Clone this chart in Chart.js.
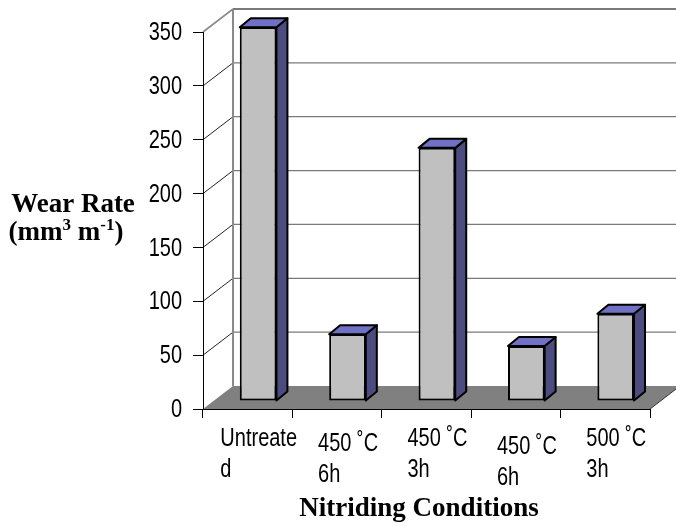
<!DOCTYPE html>
<html>
<head>
<meta charset="utf-8">
<script src="https://cdn.jsdelivr.net/npm/chart.js@4.4.1/dist/chart.umd.min.js"></script>
<style>
    body { margin: 0; background: #fff; }
    canvas { display: block; }
</style>
</head>
<body>
<canvas id="wearChart" width="676" height="526"></canvas>
<script>
// data
const conditions = [['Untreate', 'd'], ['450 ˚C', '6h'], ['450 ˚C', '3h'], ['450 ˚C', '6h'], ['500 ˚C', '3h']];
const wearRate = [347, 62, 235, 51, 81];
const yTicks = [0, 50, 100, 150, 200, 250, 300, 350];

// 3D look
const wall = { dx: 30, dy: -23 };
const barShift = { dx: 10.4, dy: -8 };
const barDepth = { dx: 11, dy: -9 };
const labelDrop = [0, 5, 0, 8, 0];
const stretch = 1.3; // the axis text in the original is drawn tall and narrow

const tickFont = '20px "Liberation Sans", Arial, sans-serif';
const titleFont = 'bold 27px "Liberation Serif", "Times New Roman", serif';

const polygon = (ctx, pts, fill, stroke, lw) => {
    ctx.beginPath();
    ctx.moveTo(pts[0][0], pts[0][1]);
    pts.slice(1).forEach(p => ctx.lineTo(p[0], p[1]));
    ctx.closePath();
    if (fill) { ctx.fillStyle = fill; ctx.fill(); }
    if (stroke) { ctx.strokeStyle = stroke; ctx.lineWidth = lw; ctx.stroke(); }
};

const line = (ctx, x1, y1, x2, y2, color, lw) => {
    ctx.beginPath();
    ctx.moveTo(x1, y1);
    ctx.lineTo(x2, y2);
    ctx.strokeStyle = color;
    ctx.lineWidth = lw;
    ctx.stroke();
};

const tallText = (ctx, s, x, y) => {
    ctx.save();
    ctx.translate(x, y);
    ctx.scale(1, stretch);
    ctx.fillText(s, 0, 0);
    ctx.restore();
};

const box3d = {
    id: 'box3d',
    beforeDraw(chart) {
        const ctx = chart.ctx;
        const { left, right, bottom } = chart.chartArea;
        const y = chart.scales.y;
        ctx.save();
        // walls
        yTicks.forEach(v => {
            const py = y.getPixelForValue(v);
            if (v === 0) return;
            const top = v === yTicks[yTicks.length - 1];
            line(ctx, left + wall.dx, py + wall.dy, right + wall.dx + 10, py + wall.dy, '#7a7a7a', top ? 2 : 1.2);
            line(ctx, left, py, left + wall.dx, py + wall.dy, top ? '#8a8a8a' : '#222', top ? 1.6 : 1);
        });
        const topY = y.getPixelForValue(yTicks[yTicks.length - 1]);
        line(ctx, left + wall.dx, topY + wall.dy, left + wall.dx, bottom + wall.dy, '#8a8a8a', 2);
        // floor
        polygon(ctx, [[left, bottom], [right, bottom], [right + wall.dx, bottom + wall.dy], [left + wall.dx, bottom + wall.dy]], '#808080');
        line(ctx, right, bottom, right + wall.dx, bottom + wall.dy, '#333', 1);
        ctx.restore();
    },
    beforeDatasetsDraw(chart) {
        chart.ctx.save();
        chart.ctx.translate(barShift.dx, barShift.dy);
    },
    afterDatasetsDraw(chart) {
        const ctx = chart.ctx;
        ctx.lineJoin = 'round';
        chart.getDatasetMeta(0).data.forEach(bar => {
            const l = bar.x - bar.width / 2;
            const r = bar.x + bar.width / 2;
            polygon(ctx, [[r, bar.y], [r + barDepth.dx, bar.y + barDepth.dy], [r + barDepth.dx, bar.base + barDepth.dy], [r, bar.base]], '#4c4c80', '#000', 2);
            polygon(ctx, [[l, bar.y], [l + barDepth.dx, bar.y + barDepth.dy], [r + barDepth.dx, bar.y + barDepth.dy], [r, bar.y]], '#7070c4', '#000', 2);
        });
        ctx.restore();
    },
    afterDraw(chart) {
        const ctx = chart.ctx;
        const x = chart.scales.x;
        const y = chart.scales.y;
        ctx.save();
        ctx.fillStyle = '#000';
        ctx.font = tickFont;

        // y tick labels
        ctx.textAlign = 'right';
        ctx.textBaseline = 'middle';
        yTicks.forEach(v => tallText(ctx, String(v), chart.chartArea.left - 21, y.getPixelForValue(v) + 1));

        // category labels, lines left aligned
        ctx.textAlign = 'left';
        ctx.textBaseline = 'alphabetic';
        conditions.forEach((lines, i) => {
            const w = Math.max(...lines.map(s => ctx.measureText(s).width));
            const lx = x.getPixelForValue(i) + 11 - w / 2;
            lines.forEach((s, k) => tallText(ctx, s, lx, 446 + labelDrop[i] + k * 31));
        });

        // axis titles
        ctx.font = titleFont;
        ctx.textAlign = 'center';
        ctx.fillText('Nitriding Conditions', 419, 516);
        ctx.fillText('Wear Rate', 73, 212);
        // (mm3 m-1) with superscripts
        const sup = 'bold 17px "Liberation Serif", "Times New Roman", serif';
        const parts = [['(mm', titleFont, 0], ['3', sup, -10], [' m', titleFont, 0], ['-1', sup, -10], [')', titleFont, 0]];
        let total = 0;
        parts.forEach(p => { ctx.font = p[1]; total += ctx.measureText(p[0]).width; });
        let px = 66 - total / 2;
        ctx.textAlign = 'left';
        parts.forEach(p => {
            ctx.font = p[1];
            ctx.fillText(p[0], px, 240 + p[2]);
            px += ctx.measureText(p[0]).width;
        });
        ctx.restore();
    }
};

new Chart(document.getElementById('wearChart'), {
    type: 'bar',
    data: {
        labels: conditions,
        datasets: [{
            label: 'Wear Rate',
            data: wearRate,
            backgroundColor: '#c0c0c0',
            borderColor: '#000',
            borderWidth: 2,
            borderSkipped: false,
            categoryPercentage: 0.82,
            barPercentage: 0.5,
        }]
    },
    options: {
        responsive: false,
        animation: false,
        layout: { padding: { top: 32, right: 26, left: 0, bottom: 0 } },
        plugins: {
            legend: { display: false },
            tooltip: { enabled: false },
        },
        scales: {
            x: {
                ticks: { display: false },
                grid: { offset: true, drawOnChartArea: false, drawTicks: true, tickLength: 9, color: '#000' },
                border: { color: '#000', width: 1 },
                afterFit: scale => { scale.height = 117; },
            },
            y: {
                min: 0,
                max: 350,
                ticks: { display: false, stepSize: 50 },
                grid: { drawOnChartArea: false, drawTicks: true, tickLength: 10, color: '#000' },
                border: { color: '#000', width: 1 },
                afterFit: scale => { scale.width = 203; },
            }
        }
    },
    plugins: [box3d]
});
</script>
</body>
</html>
